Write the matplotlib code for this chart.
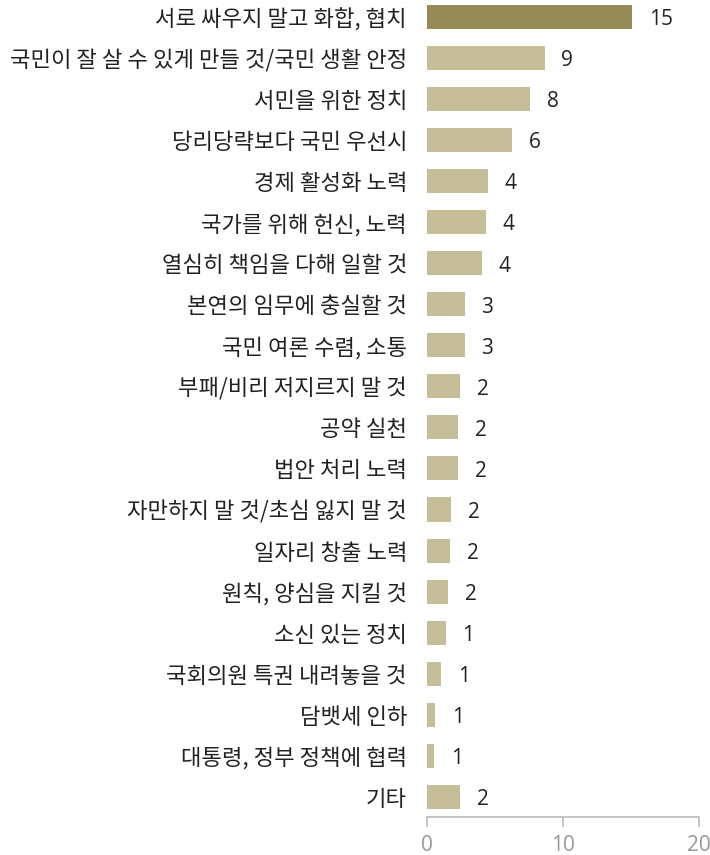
import matplotlib
matplotlib.use("Agg")
import matplotlib.pyplot as plt

categories = [
    "서로 싸우지 말고 화합, 협치",
    "국민이 잘 살 수 있게 만들 것/국민 생활 안정",
    "서민을 위한 정치",
    "당리당략보다 국민 우선시",
    "경제 활성화 노력",
    "국가를 위해 헌신, 노력",
    "열심히 책임을 다해 일할 것",
    "본연의 임무에 충실할 것",
    "국민 여론 수렴, 소통",
    "부패/비리 저지르지 말 것",
    "공약 실천",
    "법안 처리 노력",
    "자만하지 말 것/초심 잃지 말 것",
    "일자리 창출 노력",
    "원칙, 양심을 지킬 것",
    "소신 있는 정치",
    "국회의원 특권 내려놓을 것",
    "담뱃세 인하",
    "대통령, 정부 정책에 협력",
    "기타",
]
values = [15.1, 8.67, 7.6, 6.28, 4.47, 4.34, 4.03, 2.78, 2.78, 2.45,
          2.3, 2.3, 1.77, 1.72, 1.55, 1.38, 1.03, 0.59, 0.54, 2.45]
value_labels = ["15", "9", "8", "6", "4", "4", "4", "3", "3", "2",
                "2", "2", "2", "2", "2", "1", "1", "1", "1", "2"]
xticks = [0, 10, 20]

KFONT = ["Noto Sans CJK KR", "DejaVu Sans"]
NFONT = ["Open Sans", "Noto Sans", "DejaVu Sans"]

fig = plt.figure(figsize=(7.1, 8.55), dpi=100)
ax = fig.add_axes([427 / 710, 38.3 / 855, (698.7 - 427) / 710, 1 - 38.3 / 855])

n = len(categories)
ypos = list(range(n))
colors = ["#948A55"] + ["#C6BE99"] * (n - 1)
ax.barh(ypos, values, height=0.585, color=colors, edgecolor="none")

for y, v, lab in zip(ypos, values, value_labels):
    ax.annotate(lab, xy=(v, y), xytext=(12, -2), textcoords="offset points",
                ha="left", va="center", fontsize=15, color="#222222",
                family=NFONT)

ax.set_xlim(0, 20)
ax.set_ylim(n - 1 + 0.485, -0.414)
ax.set_yticks(ypos)
ax.set_yticklabels(categories, family=KFONT, fontsize=16, color="#222222")
ax.tick_params(axis="y", length=0, pad=14.4)
ax.set_xticks(xticks)
ax.set_xticklabels([str(t) for t in xticks], family=NFONT, fontsize=15,
                   color="#999999")
ax.tick_params(axis="x", length=7, width=1.2, color="#BBBBBB", pad=6)

for s in ["top", "right", "left"]:
    ax.spines[s].set_visible(False)
ax.spines["bottom"].set_color("#BBBBBB")
ax.spines["bottom"].set_linewidth(1.2)

fig.savefig("out.png", dpi=100)
